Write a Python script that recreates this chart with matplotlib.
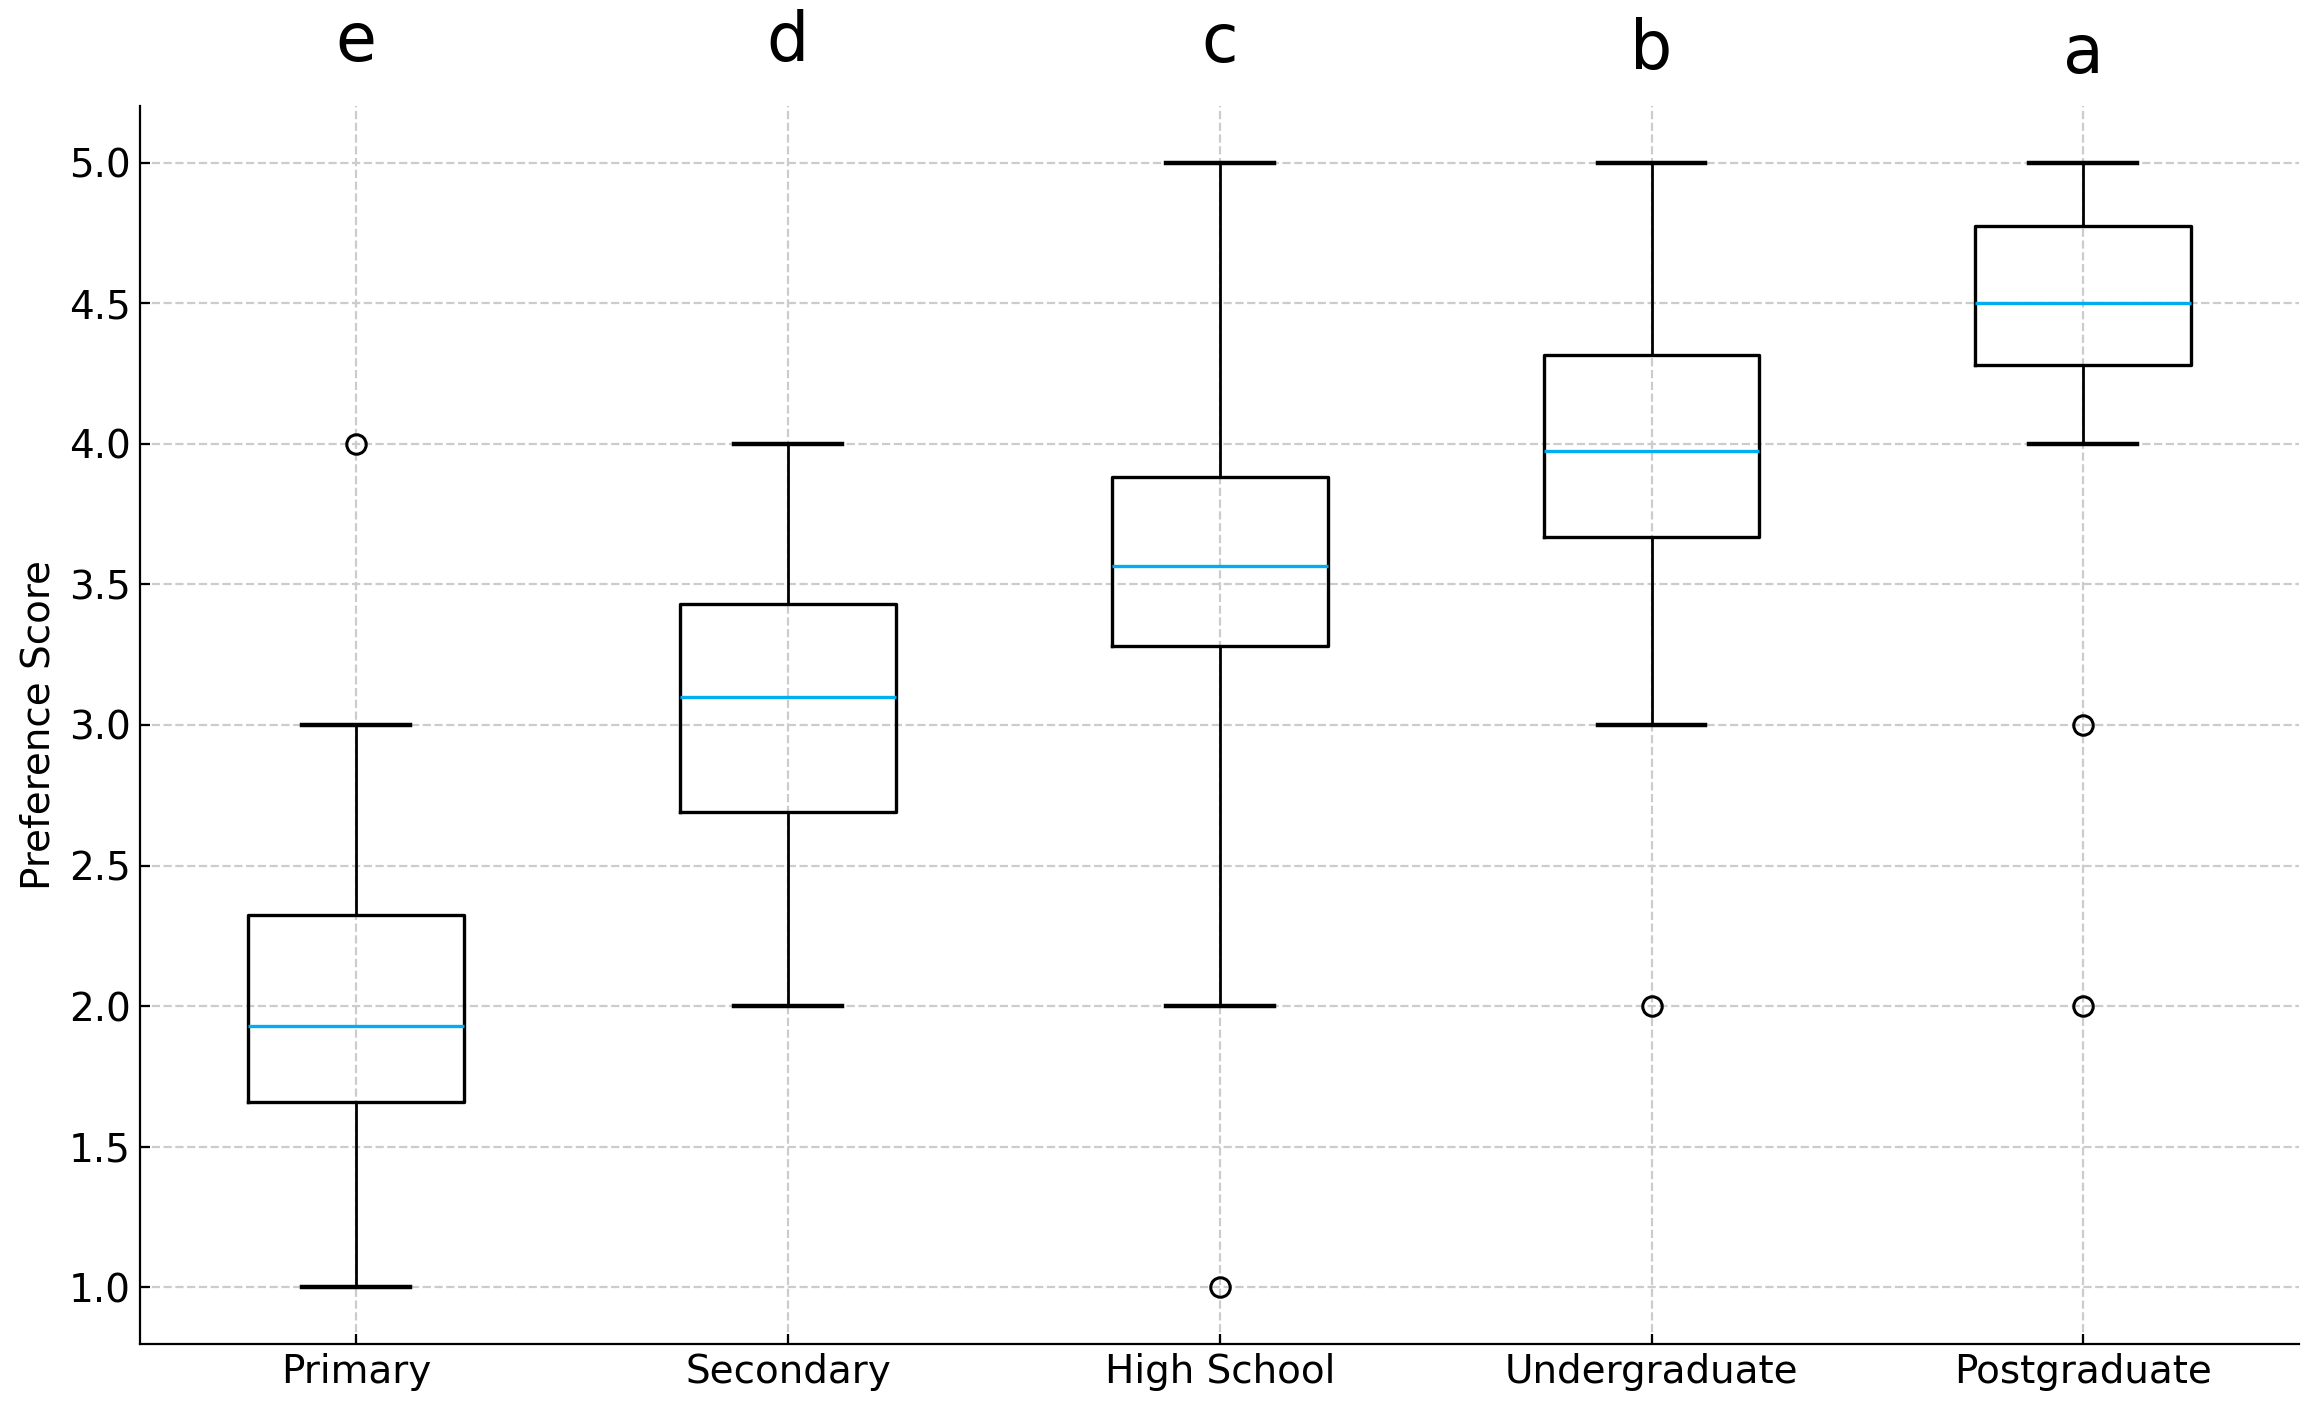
import matplotlib
matplotlib.use("Agg")
from matplotlib import pyplot as plt

# --------------------- дані -----------------------------------------
categories = ["Primary", "Secondary", "High School", "Undergraduate", "Postgraduate"]
whisker_low = [1.0, 2.0, 2.0, 3.0, 4.0]
q1 = [1.66, 2.69, 3.28, 3.67, 4.28]
medians = [1.93, 3.10, 3.565, 3.975, 4.50]
q3 = [2.325, 3.43, 3.88, 4.315, 4.775]
whisker_high = [3.0, 4.0, 5.0, 5.0, 5.0]
outliers = [[4.0], [], [1.0], [2.0], [3.0, 2.0]]
group_letters = ["e", "d", "c", "b", "a"]
letter_y = [5.36, 5.36, 5.356, 5.331, 5.32]

stats = []
for i in range(len(categories)):
    stats.append({"label": categories[i], "whislo": whisker_low[i], "q1": q1[i],
                  "med": medians[i], "q3": q3[i], "whishi": whisker_high[i],
                  "fliers": outliers[i]})

fig = plt.figure(figsize=(11.57, 7.05), dpi=200)
ax = fig.add_axes([0.0606, 0.0471, 0.933, 0.8775])

ax.bxp(stats, widths=0.5,
       boxprops=dict(color="black", linewidth=1.2),
       whiskerprops=dict(color="black", linewidth=1.0),
       capprops=dict(color="black", linewidth=1.6),
       medianprops=dict(color="#00AEEF", linewidth=1.2),
       flierprops=dict(marker="o", markerfacecolor="none", markeredgecolor="black",
                       markersize=7, markeredgewidth=1.1))

# букви груп над кожним ящиком
for i, letter in enumerate(group_letters):
    ax.text(i + 1, letter_y[i], letter, ha="center", va="baseline", fontsize=24,
            clip_on=False)

ax.set_xlim(0.5, 5.5)
ax.set_ylim(0.8, 5.2)
ax.set_yticks([1.0, 1.5, 2.0, 2.5, 3.0, 3.5, 4.0, 4.5, 5.0])
ax.set_ylabel("Preference Score", fontsize=14)
ax.tick_params(axis="both", direction="in", length=3.5, labelsize=14)
ax.grid(True, linestyle="--", color="#cccccc", linewidth=0.8)
ax.set_axisbelow(True)
ax.spines["top"].set_visible(False)
ax.spines["right"].set_visible(False)

fig.savefig("out.png", dpi=200)
